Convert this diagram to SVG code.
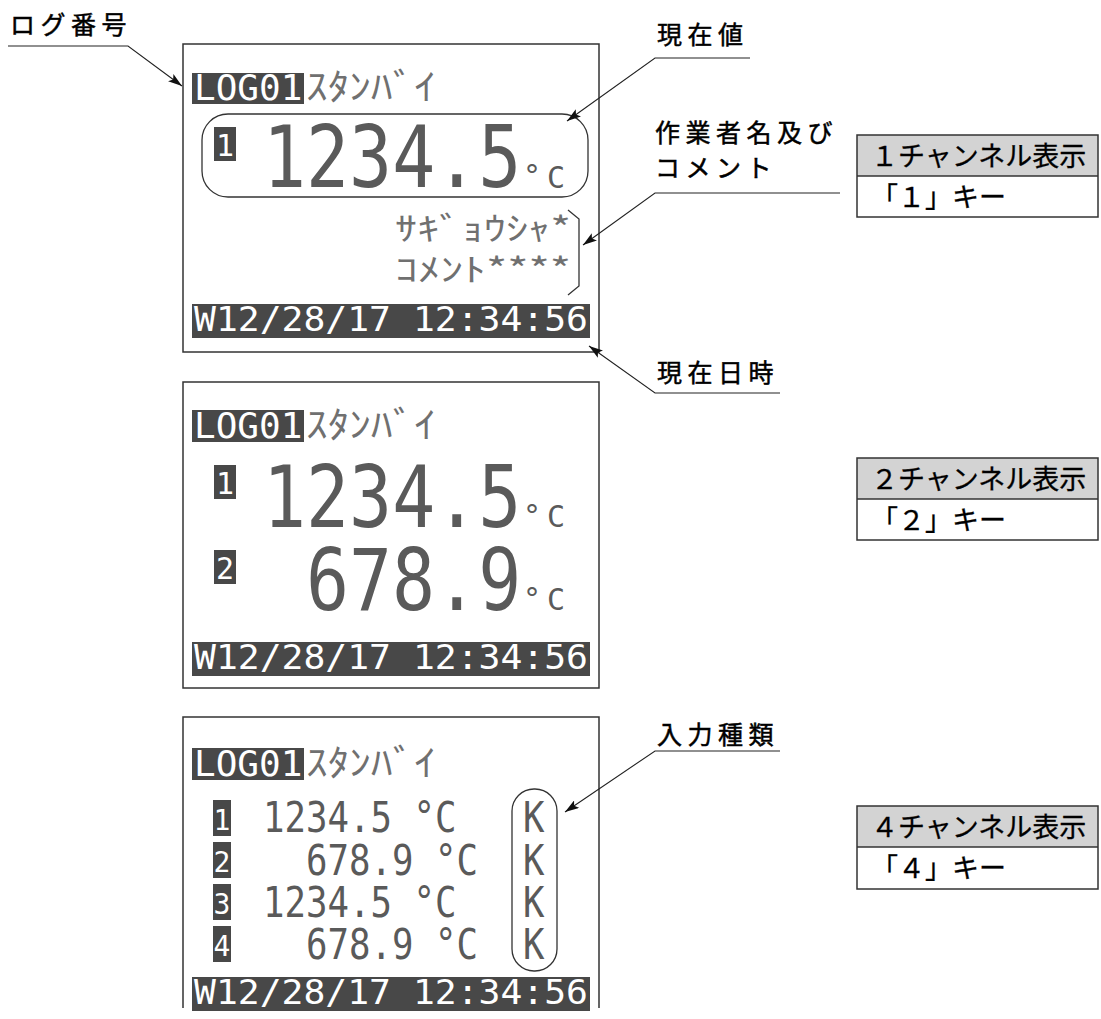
<svg xmlns="http://www.w3.org/2000/svg" width="1101" height="1019" viewBox="0 0 1101 1019">
<style>
.lbl{font-family:"Noto Sans CJK JP","Noto Sans",sans-serif;font-size:25px;letter-spacing:5.5px;fill:#000;stroke:#000;stroke-width:0.5}
.tb{font-family:"Noto Sans CJK JP","Noto Sans",sans-serif;font-size:27px;fill:#000;stroke:#000;stroke-width:0.3}
.scr{fill:none;stroke:#333;stroke-width:1.5}
.frame{fill:none;stroke:#333;stroke-width:1.3}
.inv{fill:#484848}
.dm{font-family:"DejaVu Sans Mono",monospace;fill:#5a5a5a}
.dmw{font-family:"DejaVu Sans Mono",monospace;fill:#fff}
.kana{font-family:"Noto Sans CJK JP",sans-serif;fill:#707070}
.ld{fill:none;stroke:#222;stroke-width:1.1}
.hdr{fill:#d3d3d3}
.tbl{fill:none;stroke:#333;stroke-width:1.5}
</style>
<defs>
<marker id="ah" markerUnits="userSpaceOnUse" markerWidth="15" markerHeight="9" refX="14" refY="4.5" orient="auto">
<path d="M0,0 L14,4.5 L0,9 L3,4.5 z" fill="#111"/>
</marker>
</defs>

<!-- Screen 1 -->
<g id="screen1">
<rect class="scr" x="183" y="44" width="416" height="308"/>
<rect class="inv" x="192" y="73" width="112" height="31"/>
<text class="dmw" x="194" y="100" font-size="36">LOG01</text>
<text class="kana" x="306" y="100" font-size="36" textLength="130" lengthAdjust="spacingAndGlyphs">ｽﾀﾝﾊﾞｲ</text>
<rect class="frame" x="202" y="114" width="386" height="83" rx="26"/>
<rect class="inv" x="214" y="127" width="22" height="34"/>
<text class="dmw" x="225" y="156" font-size="30" text-anchor="middle">1</text>
<text class="dm" font-size="71.5" transform="translate(263,187) scale(1,1.19)">1234.5</text>
<text class="dm" x="523" y="186" font-size="30">°</text>
<text class="dm" x="547" y="188" font-size="30">C</text>
<text class="kana" x="395" y="240" font-size="32" textLength="176" lengthAdjust="spacingAndGlyphs">ｻｷﾞｮｳｼｬ*</text>
<text class="kana" x="395" y="281" font-size="32" textLength="176" lengthAdjust="spacingAndGlyphs">ｺﾒﾝﾄ****</text>
<path class="frame" d="M568,210 L579,219 L579,286 L568,295"/>
<rect class="inv" x="192" y="304" width="398" height="34"/>
<text class="dmw" x="194" y="331" font-size="34" textLength="394" lengthAdjust="spacingAndGlyphs">W12/28/17 12:34:56</text>
</g>

<!-- Screen 2 -->
<g id="screen2">
<rect class="scr" x="183" y="382" width="416" height="306"/>
<rect class="inv" x="192" y="410" width="112" height="32"/>
<text class="dmw" x="194" y="438" font-size="36">LOG01</text>
<text class="kana" x="306" y="438" font-size="36" textLength="130" lengthAdjust="spacingAndGlyphs">ｽﾀﾝﾊﾞｲ</text>
<rect class="inv" x="214" y="465" width="22" height="34"/>
<text class="dmw" x="225" y="494" font-size="30" text-anchor="middle">1</text>
<text class="dm" font-size="71.5" transform="translate(263,527) scale(1,1.19)">1234.5</text>
<text class="dm" x="523" y="526" font-size="30">°</text>
<text class="dm" x="547" y="527" font-size="30">C</text>
<rect class="inv" x="214" y="550" width="22" height="34"/>
<text class="dmw" x="225" y="579" font-size="30" text-anchor="middle">2</text>
<text class="dm" font-size="71.5" transform="translate(306,610) scale(1,1.19)">678.9</text>
<text class="dm" x="523" y="609" font-size="30">°</text>
<text class="dm" x="547" y="610" font-size="30">C</text>
<rect class="inv" x="192" y="642" width="398" height="34"/>
<text class="dmw" x="194" y="669" font-size="34" textLength="394" lengthAdjust="spacingAndGlyphs">W12/28/17 12:34:56</text>
</g>

<!-- Screen 3 -->
<g id="screen3">
<path class="scr" d="M183,1008 L183,717 L599,717 L599,1008"/>
<rect class="inv" x="192" y="748" width="112" height="32"/>
<text class="dmw" x="194" y="776" font-size="36">LOG01</text>
<text class="kana" x="306" y="776" font-size="36" textLength="130" lengthAdjust="spacingAndGlyphs">ｽﾀﾝﾊﾞｲ</text>
<rect class="inv" x="213" y="800" width="18" height="36"/>
<text class="dmw" x="222" y="830" font-size="28" text-anchor="middle">1</text>
<rect class="inv" x="213" y="842" width="18" height="36"/>
<text class="dmw" x="222" y="872" font-size="28" text-anchor="middle">2</text>
<rect class="inv" x="213" y="884" width="18" height="36"/>
<text class="dmw" x="222" y="914" font-size="28" text-anchor="middle">3</text>
<rect class="inv" x="213" y="926" width="18" height="36"/>
<text class="dmw" x="222" y="956" font-size="28" text-anchor="middle">4</text>
<text class="dm" font-size="35.7" transform="translate(263,832) scale(1,1.2)" xml:space="preserve">1234.5 °C</text>
<text class="dm" font-size="35.7" transform="translate(263,875) scale(1,1.2)" xml:space="preserve">  678.9 °C</text>
<text class="dm" font-size="35.7" transform="translate(263,917) scale(1,1.2)" xml:space="preserve">1234.5 °C</text>
<text class="dm" font-size="35.7" transform="translate(263,959) scale(1,1.2)" xml:space="preserve">  678.9 °C</text>
<text class="dm" font-size="35.7" transform="translate(523,832) scale(1,1.2)">K</text>
<text class="dm" font-size="35.7" transform="translate(523,875) scale(1,1.2)">K</text>
<text class="dm" font-size="35.7" transform="translate(523,917) scale(1,1.2)">K</text>
<text class="dm" font-size="35.7" transform="translate(523,959) scale(1,1.2)">K</text>
<rect class="frame" x="512" y="789" width="45" height="182" rx="22"/>
<rect class="inv" x="192" y="977" width="398" height="34"/>
<text class="dmw" x="194" y="1004" font-size="34" textLength="394" lengthAdjust="spacingAndGlyphs">W12/28/17 12:34:56</text>
</g>

<!-- Labels -->
<g id="label-log"><text class="lbl" x="10" y="34">ログ番号</text></g>
<g id="label-current"><text class="lbl" x="657" y="44">現在値</text></g>
<g id="label-worker"><text class="lbl" x="655" y="142">作業者名及び</text><text class="lbl" x="655" y="177">コメント</text></g>
<g id="label-datetime"><text class="lbl" x="657" y="382">現在日時</text></g>
<g id="label-input"><text class="lbl" x="657" y="744">入力種類</text></g>

<!-- Tables -->
<g id="table1">
<rect class="hdr" x="857" y="135" width="241" height="41"/>
<rect class="tbl" x="857" y="135" width="241" height="82"/>
<line class="tbl" x1="857" y1="176" x2="1098" y2="176"/>
<text class="tb" x="871" y="166">１チャンネル表示</text>
<text class="tb" x="871" y="207">「１」キー</text>
</g>
<g id="table2">
<rect class="hdr" x="857" y="458" width="241" height="41"/>
<rect class="tbl" x="857" y="458" width="241" height="82"/>
<line class="tbl" x1="857" y1="499" x2="1098" y2="499"/>
<text class="tb" x="871" y="489">２チャンネル表示</text>
<text class="tb" x="871" y="530">「２」キー</text>
</g>
<g id="table3">
<rect class="hdr" x="857" y="806" width="241" height="41"/>
<rect class="tbl" x="857" y="806" width="241" height="83"/>
<line class="tbl" x1="857" y1="847" x2="1098" y2="847"/>
<text class="tb" x="871" y="837">４チャンネル表示</text>
<text class="tb" x="871" y="878">「４」キー</text>
</g>

<!-- Connectors -->
<g id="connectors">
<polyline class="ld" points="8,46 128,46 182,86" marker-end="url(#ah)"/>
<polyline class="ld" points="750,58 655,58 567,121" marker-end="url(#ah)"/>
<polyline class="ld" points="840,193 655,193 583,245" marker-end="url(#ah)"/>
<polyline class="ld" points="780,393 655,393 589,346" marker-end="url(#ah)"/>
<polyline class="ld" points="780,751 655,751 565,812" marker-end="url(#ah)"/>
</g>
</svg>
